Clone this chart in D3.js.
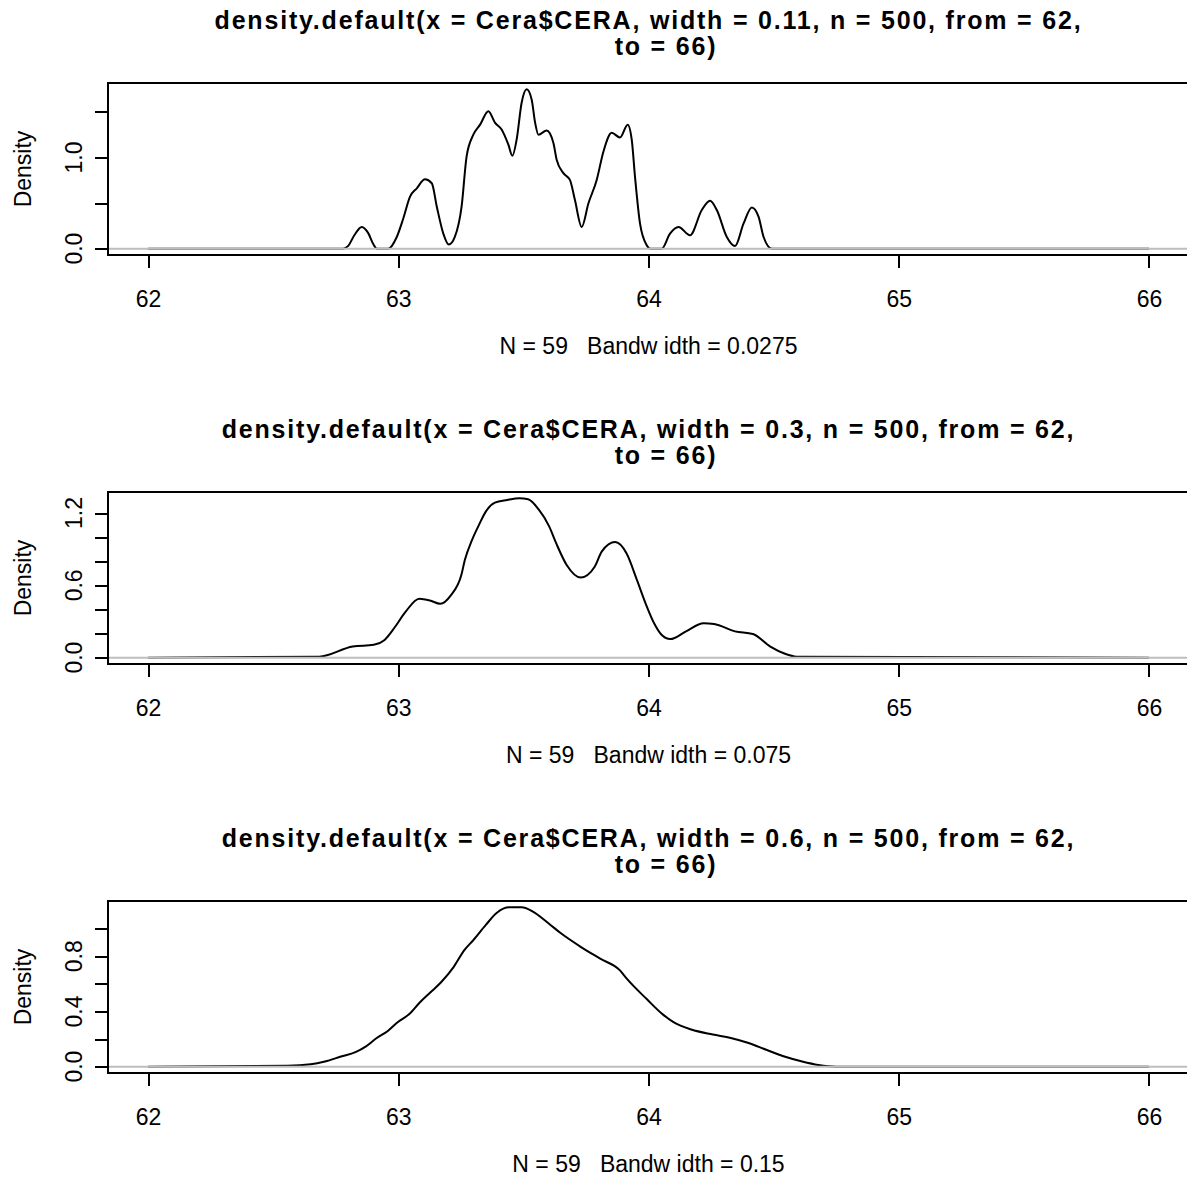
<!DOCTYPE html>
<html>
<head>
<meta charset="utf-8">
<script src="https://cdn.jsdelivr.net/npm/d3@7"></script>
<style>
  body { margin: 0; background: #fff; }
  text { font-family: "Liberation Sans", Arial, sans-serif; fill: #000; white-space: pre; }
</style>
</head>
<body>
<div id="chart"></div>
<script>
var w = 1187;
var h = 1178;

// x positions (CERA) and density
var grid1 = [62, 62.78, 62.80, 62.825, 62.854, 62.88, 62.90, 62.914, 62.96, 62.994, 63.02, 63.047, 63.074, 63.107,
  63.134, 63.154, 63.18, 63.202, 63.226, 63.253, 63.273, 63.30, 63.327, 63.36, 63.387, 63.413, 63.44, 63.456,
  63.473, 63.493, 63.513, 63.533, 63.547, 63.56, 63.593, 63.62, 63.633, 63.66, 63.686, 63.706, 63.733, 63.76,
  63.793, 63.82, 63.853, 63.886, 63.917, 63.933, 63.946, 63.966, 63.993, 64.006, 64.053, 64.086, 64.12, 64.166,
  64.213, 64.246, 64.273, 64.313, 64.346, 64.38, 64.413, 64.44, 64.46, 64.493, 66];
var dens1 = [0, 0, 0.03, 0.15, 0.238, 0.17, 0.05, 0, 0, 0.128, 0.33, 0.57, 0.662, 0.76,
  0.717, 0.46, 0.165, 0.044, 0.128, 0.46, 1.01, 1.25, 1.36, 1.508, 1.38, 1.306, 1.14, 1.019,
  1.195, 1.60, 1.747, 1.637, 1.38, 1.25, 1.295, 1.159, 0.975, 0.828, 0.754, 0.533, 0.238, 0.497,
  0.754, 1.066, 1.27, 1.22, 1.36, 1.195, 0.79, 0.276, 0.036, 0, 0, 0.165, 0.238, 0.147,
  0.423, 0.525, 0.423, 0.128, 0.029, 0.276, 0.452, 0.349, 0.128, 0, 0];

var grid2 = [62, 62.684, 62.818, 62.902, 62.944, 62.986, 63.028, 63.084, 63.126, 63.168, 63.21, 63.252, 63.266,
  63.295, 63.323, 63.351, 63.386, 63.435, 63.484, 63.519, 63.561, 63.603, 63.631, 63.673, 63.729, 63.785,
  63.813, 63.867, 63.912, 63.954, 63.989, 64.024, 64.052, 64.087, 64.15, 64.22, 64.262, 64.346, 64.417,
  64.487, 64.543, 64.592, 66];
var dens2 = [0, 0.008, 0.092, 0.106, 0.145, 0.252, 0.377, 0.489, 0.475, 0.447, 0.517, 0.685, 0.81,
  0.978, 1.104, 1.216, 1.286, 1.308, 1.322, 1.314, 1.23, 1.09, 0.95, 0.769, 0.665, 0.755,
  0.88, 0.959, 0.866, 0.643, 0.447, 0.279, 0.19, 0.154, 0.218, 0.285, 0.279, 0.218, 0.196,
  0.092, 0.034, 0.008, 0];

var grid3 = [62, 62.557, 62.65, 62.707, 62.771, 62.829, 62.871, 62.914, 62.957, 63.0, 63.043, 63.086, 63.129,
  63.171, 63.221, 63.264, 63.3, 63.35, 63.393, 63.443, 63.493, 63.536, 63.6, 63.65, 63.729, 63.807, 63.886,
  63.914, 63.993, 64.057, 64.1, 64.171, 64.257, 64.329, 64.4, 64.471, 64.543, 64.614, 64.679, 64.75, 66];
var dens3 = [0, 0.007, 0.017, 0.037, 0.073, 0.105, 0.147, 0.208, 0.257, 0.326, 0.379, 0.465, 0.539,
  0.612, 0.722, 0.845, 0.918, 1.028, 1.114, 1.155, 1.155, 1.126, 1.04, 0.967, 0.869, 0.783, 0.698,
  0.636, 0.49, 0.379, 0.323, 0.269, 0.233, 0.208, 0.171, 0.122, 0.073, 0.037, 0.012, 0, 0];

var xTicks = [62, 63, 64, 65, 66];
var yTicks1 = [0, 0.5, 1, 1.5];
var yLabels1 = [0, 1];
var yTicks2 = [0, 0.2, 0.4, 0.6, 0.8, 1, 1.2];
var yLabels2 = [0, 0.6, 1.2];
var yTicks3 = [0, 0.2, 0.4, 0.6, 0.8, 1];
var yLabels3 = [0, 0.4, 0.8];

var kernelWidths = ["0.11", "0.3", "0.6"];
var bandwidths = ["0.0275", "0.075", "0.15"];
var nObs = 59;

var panels = [
  { grid: grid1, dens: dens1, ticks: yTicks1, labels: yLabels1 },
  { grid: grid2, dens: dens2, ticks: yTicks2, labels: yLabels2 },
  { grid: grid3, dens: dens3, ticks: yTicks3, labels: yLabels3 }
];

var left = 108, right = 1189;
var boxH = 172;
var pitch = 409;
var firstTop = 83;

var svg = d3.select("#chart").append("svg")
            .attr("width", w)
            .attr("height", h);

var x = d3.scaleLinear().domain([61.84, 66.16]).range([left, right]);
var mid = (left + right) / 2;

panels.forEach(function(p, i) {
  var top = firstTop + i * pitch;
  var bottom = top + boxH;
  var g = svg.append("g");

  var ymax = d3.max(p.dens);
  var y = d3.scaleLinear().domain([-0.04 * ymax, 1.04 * ymax]).range([bottom, top]);

  // title, two lines like R's deparse
  g.append("text")
   .attr("x", mid).attr("y", top - 54)
   .attr("text-anchor", "middle")
   .style("font-size", "25px").style("font-weight", "bold").style("letter-spacing", "1.8px")
   .text("density.default(x = Cera$CERA, width = " + kernelWidths[i] + ", n = 500, from = 62,");
  g.append("text")
   .attr("x", mid).attr("y", top - 28)
   .attr("text-anchor", "middle")
   .style("font-size", "25px").style("font-weight", "bold").style("letter-spacing", "1.8px")
   .text("    to = 66)");

  // density curve
  var pts = p.grid.map(function(v, j) { return [v, p.dens[j]]; });
  var line = d3.line()
               .x(function(d) { return x(d[0]); })
               .y(function(d) { return y(d[1]); })
               .curve(d3.curveMonotoneX);
  g.append("path")
   .datum(pts)
   .attr("d", line)
   .attr("fill", "none")
   .attr("stroke", "#000")
   .attr("stroke-width", 2)
   .attr("stroke-linejoin", "round");

  // abline(h = 0, col = "gray")
  g.append("line")
   .attr("x1", left).attr("x2", right)
   .attr("y1", y(0)).attr("y2", y(0))
   .attr("stroke", "#bebebe")
   .attr("stroke-width", 2);

  // box
  g.append("rect")
   .attr("x", left).attr("y", top)
   .attr("width", right - left).attr("height", boxH)
   .attr("fill", "none")
   .attr("stroke", "#000")
   .attr("stroke-width", 2)
   .attr("shape-rendering", "crispEdges");

  // x axis
  var xa = g.append("g")
            .attr("transform", "translate(0," + bottom + ")")
            .call(d3.axisBottom(x).tickValues(xTicks).tickSize(13).tickPadding(23).tickFormat(d3.format("d")));
  xa.select(".domain").remove();
  xa.selectAll("line").attr("stroke-width", 2).attr("shape-rendering", "crispEdges");
  xa.selectAll("text")
    .style("font-family", "'Liberation Sans', Arial, sans-serif")
    .style("font-size", "23px");

  // y axis ticks
  var ya = g.append("g")
            .attr("transform", "translate(" + left + ",0)")
            .call(d3.axisLeft(y).tickValues(p.ticks).tickSize(13).tickFormat(""));
  ya.select(".domain").remove();
  ya.selectAll("line").attr("stroke-width", 2).attr("shape-rendering", "crispEdges");

  // y tick labels, rotated like las = 0
  g.selectAll("text.ylab")
   .data(p.labels)
   .enter()
   .append("text")
   .attr("class", "ylab")
   .attr("text-anchor", "middle")
   .attr("transform", function(d) { return "translate(" + (left - 26) + "," + y(d) + ") rotate(-90)"; })
   .style("font-size", "23px")
   .text(function(d) { return d3.format(".1f")(d); });

  g.append("text")
   .attr("text-anchor", "middle")
   .attr("transform", "translate(" + (left - 77) + "," + ((top + bottom) / 2) + ") rotate(-90)")
   .style("font-size", "23px")
   .text("Density");

  g.append("text")
   .attr("x", mid).attr("y", bottom + 99)
   .attr("text-anchor", "middle")
   .style("font-size", "23px")
   .text("N = " + nObs + "   Bandw idth = " + bandwidths[i]);
});
</script>
</body>
</html>
